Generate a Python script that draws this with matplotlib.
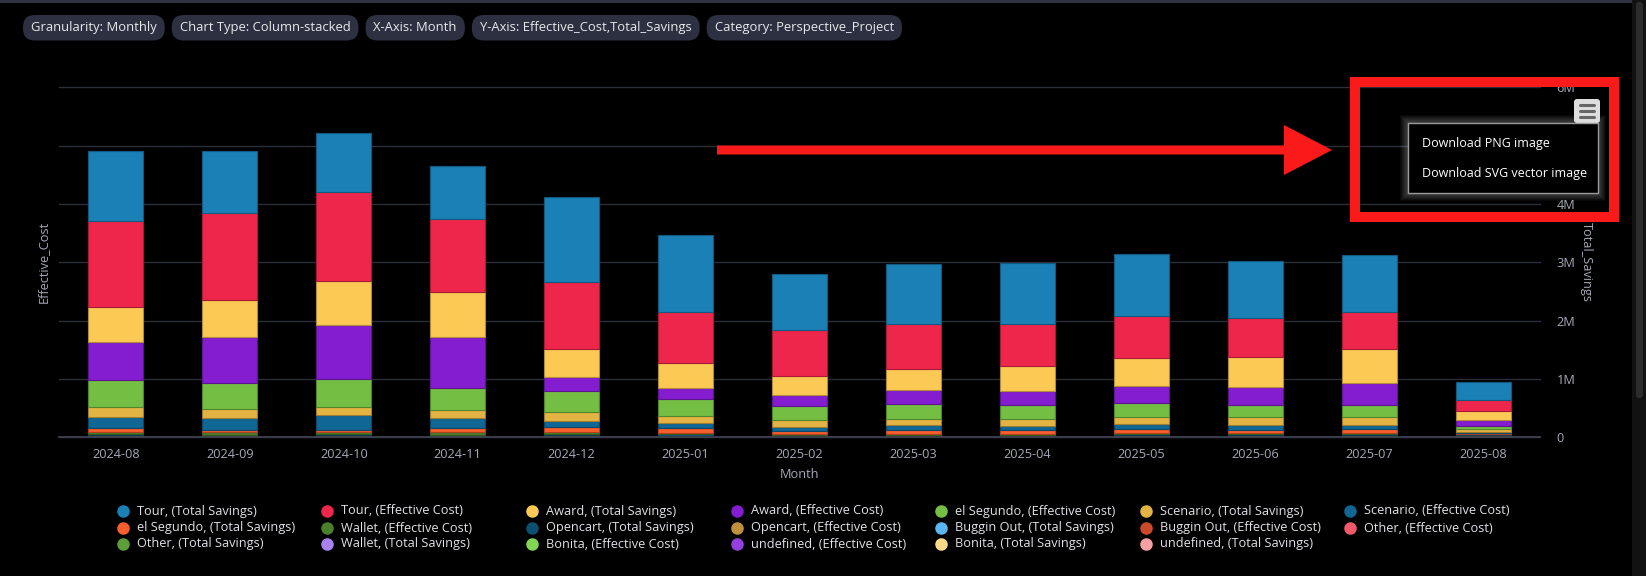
import numpy as np
import matplotlib
matplotlib.use("Agg")
import matplotlib.pyplot as plt
from matplotlib.patches import Rectangle, FancyBboxPatch, Polygon
from matplotlib.colors import to_rgb

plt.rcParams['font.family'] = ['Open Sans', 'DejaVu Sans']

months = ["2024-08", "2024-09", "2024-10", "2024-11", "2024-12", "2025-01", "2025-02",
          "2025-03", "2025-04", "2025-05", "2025-06", "2025-07", "2025-08"]

# values in millions, series listed in legend order (first = top of stack)
tour_ts = [1.204, 1.072, 1.015, 0.912, 1.458, 1.320, 0.966, 1.023, 1.046, 1.064, 0.989, 0.971, 0.307]
tour_ec = [1.462, 1.479, 1.525, 1.246, 1.154, 0.872, 0.776, 0.776, 0.724, 0.718, 0.661, 0.644, 0.202]
award_ts = [0.602, 0.637, 0.745, 0.780, 0.476, 0.436, 0.327, 0.362, 0.431, 0.477, 0.511, 0.586, 0.156]
award_ec = [0.660, 0.785, 0.929, 0.872, 0.241, 0.190, 0.201, 0.247, 0.247, 0.305, 0.322, 0.379, 0.098]
segundo_ec = [0.458, 0.459, 0.476, 0.379, 0.362, 0.281, 0.236, 0.253, 0.236, 0.241, 0.207, 0.207, 0.052]
scenario_ts = [0.167, 0.143, 0.149, 0.132, 0.155, 0.126, 0.109, 0.103, 0.120, 0.115, 0.132, 0.126, 0.041]
scenario_ec = [0.194, 0.207, 0.247, 0.167, 0.097, 0.081, 0.075, 0.075, 0.058, 0.075, 0.081, 0.064, 0.018]
segundo_ts = [0.069, 0.040, 0.040, 0.080, 0.092, 0.091, 0.052, 0.075, 0.075, 0.074, 0.051, 0.074, 0.016]
wallet_ec = [0.030, 0.045, 0.028, 0.040, 0.035, 0.020, 0.012, 0.010, 0.010, 0.012, 0.020, 0.012, 0.012]
opencart_ts = [0.022, 0.012, 0.020, 0.012, 0.015, 0.025, 0.020, 0.022, 0.022, 0.018, 0.020, 0.028, 0.020]
opencart_ec = [0.016, 0.015, 0.018, 0.018, 0.012, 0.010, 0.008, 0.008, 0.008, 0.025, 0.012, 0.010, 0.010]
buggin_ts = [0.006, 0.004, 0.005, 0.004, 0.006, 0.006, 0.005, 0.005, 0.005, 0.005, 0.006, 0.008, 0.008]
buggin_ec = [0.008, 0.004, 0.006, 0.005, 0.008, 0.006, 0.005, 0.005, 0.005, 0.006, 0.008, 0.008, 0.006]
other_ec = [0.003, 0.002, 0.003, 0.002, 0.003, 0.002, 0.002, 0.002, 0.002, 0.003, 0.003, 0.003, 0.003]
other_ts = [0.003, 0.002, 0.003, 0.002, 0.003, 0.002, 0.002, 0.002, 0.002, 0.003, 0.003, 0.003, 0.002]
wallet_ts = [0.001, 0.001, 0.001, 0.001, 0.001, 0.001, 0.001, 0.001, 0.001, 0.001, 0.001, 0.001, 0.001]
bonita_ec = [0.001, 0.001, 0.001, 0.001, 0.001, 0.001, 0.001, 0.001, 0.001, 0.001, 0.001, 0.001, 0.001]
undefined_ec = [0.001, 0.001, 0.001, 0.001, 0.001, 0.001, 0.001, 0.001, 0.001, 0.001, 0.001, 0.001, 0.001]
bonita_ts = [0.0005, 0.0005, 0.0005, 0.0005, 0.0005, 0.0005, 0.0005, 0.0005, 0.0005, 0.0005, 0.0005, 0.0005, 0.0005]
undefined_ts = [0.0005, 0.0005, 0.0005, 0.0005, 0.0005, 0.0005, 0.0005, 0.0005, 0.0005, 0.0005, 0.0005, 0.0005, 0.0005]

series = [
    ("Tour, (Total Savings)", tour_ts, "#1a80b6"),
    ("Tour, (Effective Cost)", tour_ec, "#ee264b"),
    ("Award, (Total Savings)", award_ts, "#fdc955"),
    ("Award, (Effective Cost)", award_ec, "#841ccf"),
    ("el Segundo, (Effective Cost)", segundo_ec, "#74bf43"),
    ("Scenario, (Total Savings)", scenario_ts, "#e3b344"),
    ("Scenario, (Effective Cost)", scenario_ec, "#106694"),
    ("el Segundo, (Total Savings)", segundo_ts, "#f95e2c"),
    ("Wallet, (Effective Cost)", wallet_ec, "#4a7f2b"),
    ("Opencart, (Total Savings)", opencart_ts, "#0b4f71"),
    ("Opencart, (Effective Cost)", opencart_ec, "#c0913c"),
    ("Buggin Out, (Total Savings)", buggin_ts, "#5ab6f2"),
    ("Buggin Out, (Effective Cost)", buggin_ec, "#cc4a2a"),
    ("Other, (Effective Cost)", other_ec, "#f3586b"),
    ("Other, (Total Savings)", other_ts, "#5e9e39"),
    ("Wallet, (Total Savings)", wallet_ts, "#a982f0"),
    ("Bonita, (Effective Cost)", bonita_ec, "#82d653"),
    ("undefined, (Effective Cost)", undefined_ec, "#9440e0"),
    ("Bonita, (Total Savings)", bonita_ts, "#fdd98a"),
    ("undefined, (Total Savings)", undefined_ts, "#f9a0a4"),
]

chips = ["Granularity: Monthly", "Chart Type: Column-stacked", "X-Axis: Month",
         "Y-Axis: Effective_Cost,Total_Savings", "Category: Perspective_Project"]
yticks = [0, 1, 2, 3, 4, 5, 6]

W, H = 1646, 576
fig = plt.figure(figsize=(W / 100, H / 100), dpi=100, facecolor="black")
ax = fig.add_axes([59 / W, 1 - 437.3 / H, (1540 - 59) / W, 350 / H])
ax.set_facecolor("black")

x = np.arange(len(months))
bottom = np.zeros(len(months))
for name, vals, col in reversed(series):
    vals = np.array(vals)
    edge = tuple(c * 0.7 for c in to_rgb(col))
    ax.bar(x, vals, 0.483, bottom=bottom, color=col, edgecolor=edge, linewidth=0.8, zorder=3)
    bottom += vals

ax.set_xlim(-0.5, len(months) - 0.5)
ax.set_ylim(0, 6)
ax.set_yticks(yticks)
ax.set_yticklabels(["0" if v == 0 else f"{v}M" for v in yticks])
ax.yaxis.tick_right()
ax.set_xticks(x)
ax.set_xticklabels(months)
ax.tick_params(axis="y", length=0, pad=12, labelcolor="#a6a8b6", labelsize=9.2)
ax.tick_params(axis="x", length=0, pad=8, labelcolor="#a6a8b6", labelsize=9.2)
for s in ax.spines.values():
    s.set_visible(False)
ax.grid(axis="y", color="#2b2e38", linewidth=1, zorder=0)
for gl in ax.get_ygridlines():
    gl.set_clip_on(False)
ax.axhline(0, color="#3d4150", linewidth=1.3, zorder=4, clip_on=False)

# overlay in pixel coordinates
ov = fig.add_axes([0, 0, 1, 1])
ov.set_xlim(0, W)
ov.set_ylim(H, 0)
ov.axis("off")
ov.patch.set_alpha(0)
ov.set_zorder(5)

ov.add_patch(Rectangle((0, 0), 1632, 3, color="#2f3340", lw=0))
ov.add_patch(Rectangle((1632, 0), 14, H, color="#121212", lw=0))
ov.add_patch(FancyBboxPatch((1636, 2), 7, 396, boxstyle="round,pad=0,rounding_size=3.5",
                            color="#2c2c2c", lw=0))

ov.text(43, 262, "Effective_Cost", rotation=90, ha="center", va="center", color="#a6a8b6", fontsize=9.2)
ov.text(1586, 262, "Total_Savings", rotation=270, ha="center", va="center", color="#a6a8b6", fontsize=9.2)
ov.text(800, 475, "Month", ha="center", va="center", color="#a6a8b6", fontsize=9.2)

# filter chips
renderer = fig.canvas.get_renderer()
cx = 23
for c in chips:
    t = ov.text(cx + 8, 27.5, c, ha="left", va="center", color="#e8e8ec", fontsize=9.4, zorder=3)
    w = t.get_window_extent(renderer).width + 16
    ov.add_patch(FancyBboxPatch((cx, 15), w, 25.5, boxstyle="round,pad=0,rounding_size=12",
                                color="#2c3040", lw=0, zorder=2))
    cx += w + 7

# legend, row-wise like the source
rows_y = [511, 528, 544]
for i, (name, vals, col) in enumerate(series):
    r, c = divmod(i, 7)
    lx = 122.8 + 204.6 * c
    ov.plot([lx], [rows_y[r]], "o", ms=8, color=col, mec=col)
    ov.text(lx + 14, rows_y[r], name, ha="left", va="center", color="#e0e0e6", fontsize=9.2)

# red annotation arrow and box
red = "#fa1a1a"
ov.add_patch(Polygon([(717, 145.5), (1284, 145.5), (1284, 125), (1332, 150), (1284, 175),
                      (1284, 154.5), (717, 154.5)], closed=True, color=red, lw=0, zorder=4))
ov.add_patch(Rectangle((1355, 81.7), 259, 135, fill=False, edgecolor=red, lw=7.2,
                       joinstyle="miter", zorder=6))

# export menu
ov.add_patch(FancyBboxPatch((1574, 99), 26, 24, boxstyle="round,pad=0,rounding_size=3",
                            color="#dedede", lw=0, zorder=5))
for ly in [105, 111, 117]:
    ov.plot([1580, 1594], [ly, ly], color="#666666", lw=2.2, solid_capstyle="round", zorder=6)
for k in range(1, 9):
    ov.add_patch(Rectangle((1408 - k, 123 - k), 190 + 2 * k, 70 + 2 * k, color="white",
                           alpha=0.035, lw=0, zorder=4))
ov.add_patch(Rectangle((1408, 123), 190, 70, facecolor="black", edgecolor="#9a9a9a", lw=1, zorder=5))
ov.text(1422, 143, "Download PNG image", ha="left", va="center", color="white", fontsize=9.0, zorder=6)
ov.text(1422, 173, "Download SVG vector image", ha="left", va="center", color="white", fontsize=9.0, zorder=6)

fig.savefig("out.png", dpi=100, facecolor="black")
